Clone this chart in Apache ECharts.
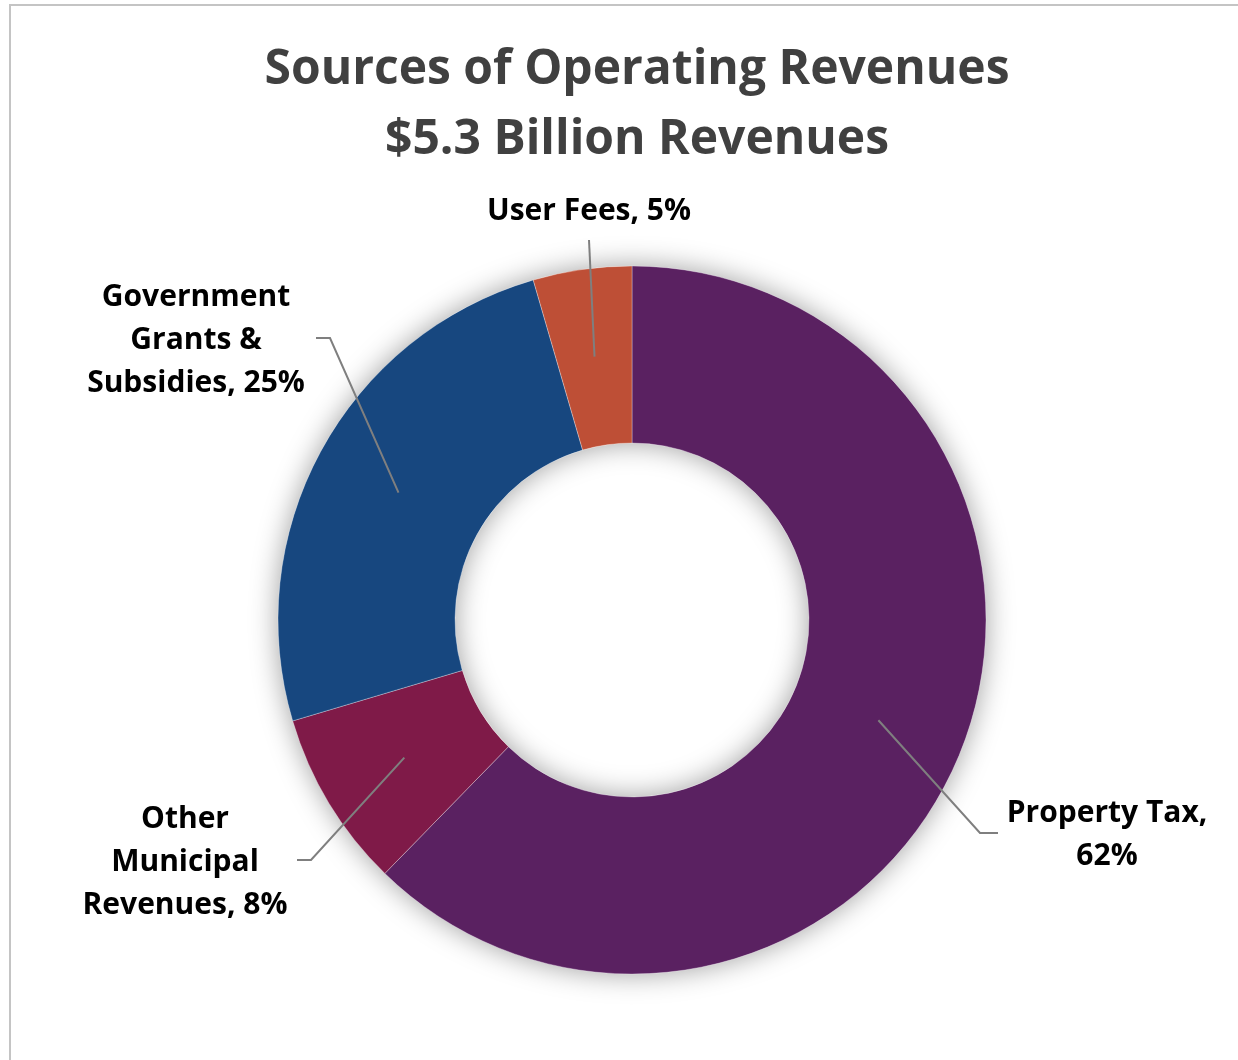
<!DOCTYPE html>
<html>
<head>
<meta charset="utf-8">
<script src="https://cdn.jsdelivr.net/npm/echarts@6/dist/echarts.min.js"></script>
<style>
  html, body { margin: 0; padding: 0; background: #fff; overflow: hidden; }
  #chart { width: 1238px; height: 1060px; }
  #frame { position: absolute; left: 9px; top: 4px; width: 1400px; height: 1200px;
           border-left: 2px solid #c4c4c4; border-top: 2px solid #c4c4c4; pointer-events: none; }
</style>
</head>
<body>
<div id="chart"></div>
<div id="frame"></div>
<script>
// ---- data ----
const titleLines = ['Sources of Operating Revenues', '$5.3 Billion Revenues'];
const categories = ['Property Tax', 'Other Municipal Revenues', 'Government Grants & Subsidies', 'User Fees'];
const shares = [62.3, 8.1, 25.1, 4.5];          // percent of operating revenues
const labelTemplates = ['Property Tax,\n{p}', 'Other\nMunicipal\nRevenues, {p}', 'Government\nGrants &\nSubsidies, {p}', 'User Fees, {p}'];
const colors = ['#5a2161', '#7f1a48', '#17477f', '#be4f36'];

// ---- layout (not data) ----
const CX = 632, CY = 620, R_IN = 177, R_OUT = 354, R_MID = 266;
// label centre and the elbow / end of each leader line
const labelPlace = [
  { x: 1107, y: 835, elbow: [980, 833], end: [998, 833] },
  { x: 185, y: 862, elbow: [311, 860], end: [297, 860] },
  { x: 196, y: 340, elbow: [330, 338], end: [316, 338] },
  { x: 589, y: 211, elbow: [589, 240], end: [589, 240] }
];

const chart = echarts.init(document.getElementById('chart'), null, { renderer: 'canvas' });
const FONT = '"Open Sans", Lato, sans-serif';

const pieData = categories.map((c, i) => ({ name: c, value: shares[i], itemStyle: { color: colors[i] } }));

const option = {
  backgroundColor: '#ffffff',
  animation: false,
  title: {
    text: titleLines.join('\n'),
    left: CX,
    top: 30,
    textAlign: 'center',
    textStyle: { fontFamily: FONT, fontWeight: 'bold', fontSize: 48, lineHeight: 70, color: '#404040' }
  },
  series: [
    {
      // soft shadow ring under the donut
      type: 'pie',
      silent: true,
      center: [CX, CY],
      radius: [R_IN, R_OUT],
      label: { show: false },
      labelLine: { show: false },
      itemStyle: { color: '#ffffff', shadowBlur: 28, shadowColor: 'rgba(0,0,0,0.38)' },
      data: [{ value: 1, name: 'shadow' }],
      z: 1
    },
    {
      type: 'pie',
      center: [CX, CY],
      radius: [R_IN, R_OUT],
      startAngle: 90,
      clockwise: true,
      label: { show: false },
      labelLine: { show: false },
      itemStyle: { borderColor: 'rgba(255,255,255,0.6)', borderWidth: 0.5 },
      data: pieData,
      z: 2
    },
    {
      // transparent overlay carrying the data labels and leader lines
      type: 'pie',
      silent: true,
      center: [CX, CY],
      radius: [R_IN, R_OUT],
      startAngle: 90,
      clockwise: true,
      avoidLabelOverlap: false,
      itemStyle: { color: 'rgba(0,0,0,0)' },
      data: pieData.map(d => ({ name: d.name, value: d.value, itemStyle: { color: 'rgba(0,0,0,0)' } })),
      label: {
        show: true,
        position: 'outside',
        formatter: (p) => labelTemplates[p.dataIndex].replace('{p}', Math.round(p.percent) + '%'),
        fontFamily: FONT,
        fontWeight: 'bold',
        fontSize: 30,
        lineHeight: 43,
        color: '#000000',
        align: 'center'
      },
      labelLine: {
        show: true,
        lineStyle: { color: '#7f7f7f', width: 2 }
      },
      labelLayout: function (params) {
        const pl = labelPlace[params.dataIndex];
        const p0 = params.labelLinePoints ? params.labelLinePoints[0] : [CX, CY];
        const k = R_MID / R_OUT;
        const start = [CX + (p0[0] - CX) * k, CY + (p0[1] - CY) * k];
        return {
          x: pl.x,
          y: pl.y,
          align: 'center',
          verticalAlign: 'middle',
          labelLinePoints: [start, pl.elbow, pl.end]
        };
      },
      z: 3
    }
  ]
};
chart.setOption(option);
</script>
</body>
</html>
